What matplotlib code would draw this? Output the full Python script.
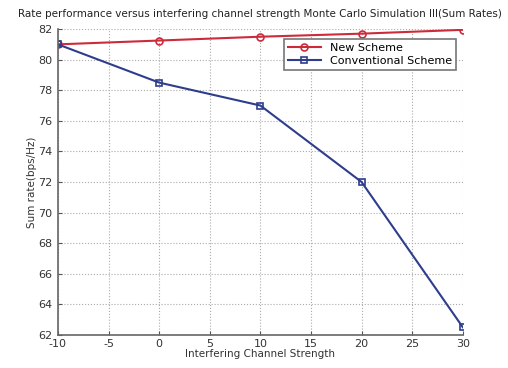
import matplotlib
matplotlib.use("Agg")
import matplotlib.pyplot as plt

x = [-10, 0, 10, 20, 30]
new_scheme = [81.0, 81.25, 81.5, 81.7, 81.95]
conventional = [81.0, 78.5, 77.0, 72.0, 62.5]
xticks = [-10, -5, 0, 5, 10, 15, 20, 25, 30]
yticks = [62, 64, 66, 68, 70, 72, 74, 76, 78, 80, 82]

plt.rcParams['font.family'] = ['DejaVu Sans']
plt.rcParams['axes.unicode_minus'] = False
fig = plt.figure(figsize=(5.08, 3.68), dpi=100)
ax = fig.add_axes([0.114, 0.09, 0.797, 0.831])

ax.plot(x, new_scheme, color='#cc2b3b', lw=1.5, marker='o', ms=5,
        mfc='none', mec='#cc2b3b', mew=1.2, label='New Scheme')
ax.plot(x, conventional, color='#2e3d8c', lw=1.5, marker='s', ms=5,
        mfc='none', mec='#2e3d8c', mew=1.2, label='Conventional Scheme')

ax.set_xlim(-10, 30)
ax.set_ylim(62, 82)
ax.set_xticks(xticks)
ax.set_yticks(yticks)
ax.tick_params(labelsize=8, colors='#555555', length=3, direction='in')
ax.tick_params(axis='x', pad=3)
ax.tick_params(axis='y', pad=4)
for t in ax.get_xticklabels() + ax.get_yticklabels():
    t.set_color('#333333')
ax.grid(True, linestyle=':', color='#aaaaaa', lw=0.8)
ax.spines['top'].set_visible(False)
ax.spines['right'].set_visible(False)
ax.spines['left'].set_color('#666666')
ax.spines['bottom'].set_color('#666666')
ax.spines['left'].set_linewidth(1.2)
ax.spines['bottom'].set_linewidth(1.2)

ax.set_title('Rate performance versus interfering channel strength Monte Carlo Simulation III(Sum Rates)',
             fontsize=7.5, color='#222222', pad=9)
ax.set_xlabel('Interfering Channel Strength', fontsize=7.5, color='#333333', labelpad=0)
ax.set_ylabel('Sum rate(bps/Hz)', fontsize=7.5, color='#333333', labelpad=1)

leg = ax.legend(loc='upper right', bbox_to_anchor=(0.997, 0.985), fontsize=8,
                fancybox=False, framealpha=1, edgecolor='#777777',
                handlelength=3.0, borderpad=0.35, labelspacing=0.25)
leg.get_frame().set_linewidth(1.2)

fig.savefig('out.png', dpi=100)
